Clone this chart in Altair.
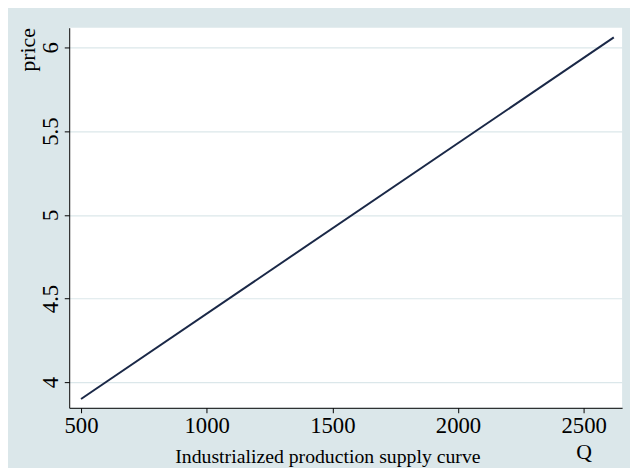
import altair as alt
import pandas as pd

# Supply curve endpoints
quantity = [500, 2620]
price = [3.90, 6.06]

x_ticks = [500, 1000, 1500, 2000, 2500]
y_ticks = [4, 4.5, 5, 5.5, 6]

df = pd.DataFrame({"Q": quantity, "price": price})

BG = "#DBE7EA"
FONT = "Liberation Serif"

chart = (
    alt.Chart(df)
    .mark_line(color="#1a2847", strokeWidth=2)
    .encode(
        x=alt.X(
            "Q:Q",
            scale=alt.Scale(domain=[453, 2653], nice=False, zero=False),
            axis=alt.Axis(
                values=x_ticks,
                format="d",
                grid=False,
                title="Q",
                titleX=521,
                titleY=34,
                titleAnchor="middle",
                titleAlign="center",
                titleBaseline="top",
            ),
        ),
        y=alt.Y(
            "price:Q",
            scale=alt.Scale(domain=[3.847, 6.118], nice=False, zero=False),
            axis=alt.Axis(
                values=y_ticks,
                format="~g",
                grid=True,
                gridColor=BG,
                gridWidth=1.2,
                labelAngle=270,
                labelAlign="center",
                labelBaseline="bottom",
                title="price",
                titleAnchor="end",
                titlePadding=0,
            ),
        ),
    )
    .properties(
        width=560,
        height=385,
        autosize=alt.AutoSizeParams(type="none"),
        padding={"left": 62, "top": 17, "right": 8, "bottom": 58},
        background=BG,
        title=alt.TitleParams(
            "Industrialized production supply curve",
            orient="bottom",
            anchor="middle",
            dx=-18,
            offset=-15,
            font=FONT,
            fontSize=20,
            fontWeight="normal",
            color="black",
        ),
    )
    .configure_view(fill="white", stroke=None)
    .configure_axis(
        domainColor="black",
        domainWidth=1,
        tickColor="black",
        tickSize=5,
        labelFont=FONT,
        labelFontSize=23,
        labelColor="black",
        labelPadding=2,
        titleFont=FONT,
        titleFontSize=22,
        titleFontWeight="normal",
        titleColor="black",
    )
)

chart.save("out.html", embed_options={"renderer": "svg", "actions": False})
